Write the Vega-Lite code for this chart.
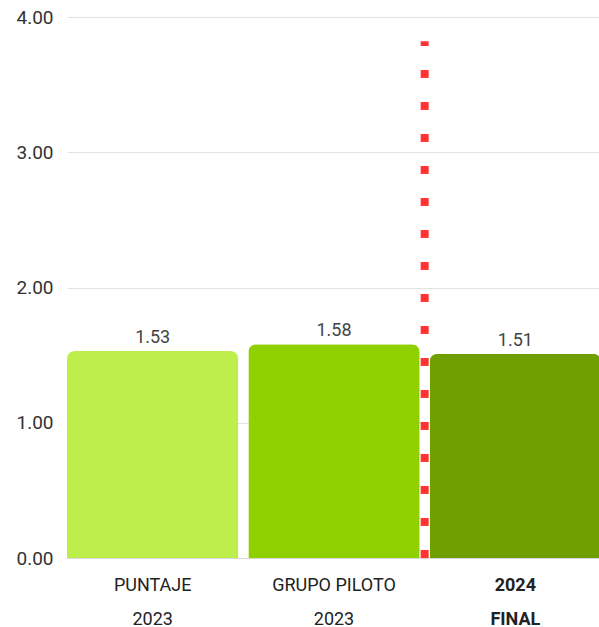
{
  "$schema": "https://vega.github.io/schema/vega-lite/v6.json",
  "autosize": {"type": "none"},
  "padding": {"left": 67, "top": 17, "right": 0, "bottom": 69},
  "width": 534,
  "height": 541,
  "config": {
    "view": {"stroke": null},
    "font": "Roboto"
  },
  "data": {
    "values": [
      {"categoria": "PUNTAJE|2023", "valor": 1.53},
      {"categoria": "GRUPO PILOTO|2023", "valor": 1.58},
      {"categoria": "2024|FINAL", "valor": 1.51}
    ]
  },
  "encoding": {
    "x": {
      "field": "categoria",
      "type": "nominal",
      "sort": null,
      "scale": {"paddingInner": 0.055, "paddingOuter": 0},
      "axis": {
        "title": null,
        "labelAngle": 0,
        "labelExpr": "split(datum.value, '|')",
        "labelFontSize": 18,
        "labelLineHeight": 34,
        "labelColor": "#222222",
        "labelPadding": 18,
        "labelFontWeight": {"condition": {"test": "datum.value === '2024|FINAL'", "value": "bold"}, "value": "normal"},
        "ticks": false,
        "domain": true,
        "domainColor": "#d8d8d8",
        "grid": false
      }
    }
  },
  "layer": [
    {
      "mark": {"type": "bar", "cornerRadiusTopLeft": 8, "cornerRadiusTopRight": 8},
      "encoding": {
        "y": {
          "field": "valor",
          "type": "quantitative",
          "scale": {"domain": [0, 4], "nice": false},
          "axis": {
            "title": null,
            "values": [0, 1, 2, 3, 4],
            "format": ".2f",
            "labelFontSize": 19,
            "labelColor": "#333333",
            "labelPadding": 14,
            "ticks": false,
            "domain": false,
            "gridColor": "#e3e3e3"
          }
        },
        "color": {
          "field": "categoria",
          "type": "nominal",
          "sort": null,
          "scale": {"range": ["#BDEE4B", "#8FD000", "#6FA000"]},
          "legend": null
        }
      }
    },
    {
      "mark": {"type": "text", "baseline": "bottom", "dy": -4, "fontSize": 18, "color": "#444444"},
      "encoding": {
        "y": {"field": "valor", "type": "quantitative"},
        "text": {"field": "valor", "type": "quantitative", "format": ".2f"}
      }
    },
    {
      "data": {"values": [{"categoria": "2024|FINAL", "inicio": 0, "fin": 3.82}]},
      "mark": {"type": "rule", "color": "#FF3333", "strokeWidth": 8, "strokeDash": [8, 24], "strokeCap": "butt", "xOffset": -5},
      "encoding": {
        "x": {"field": "categoria", "type": "nominal", "bandPosition": 0},
        "y": {"field": "inicio", "type": "quantitative"},
        "y2": {"field": "fin"}
      }
    }
  ]
}
